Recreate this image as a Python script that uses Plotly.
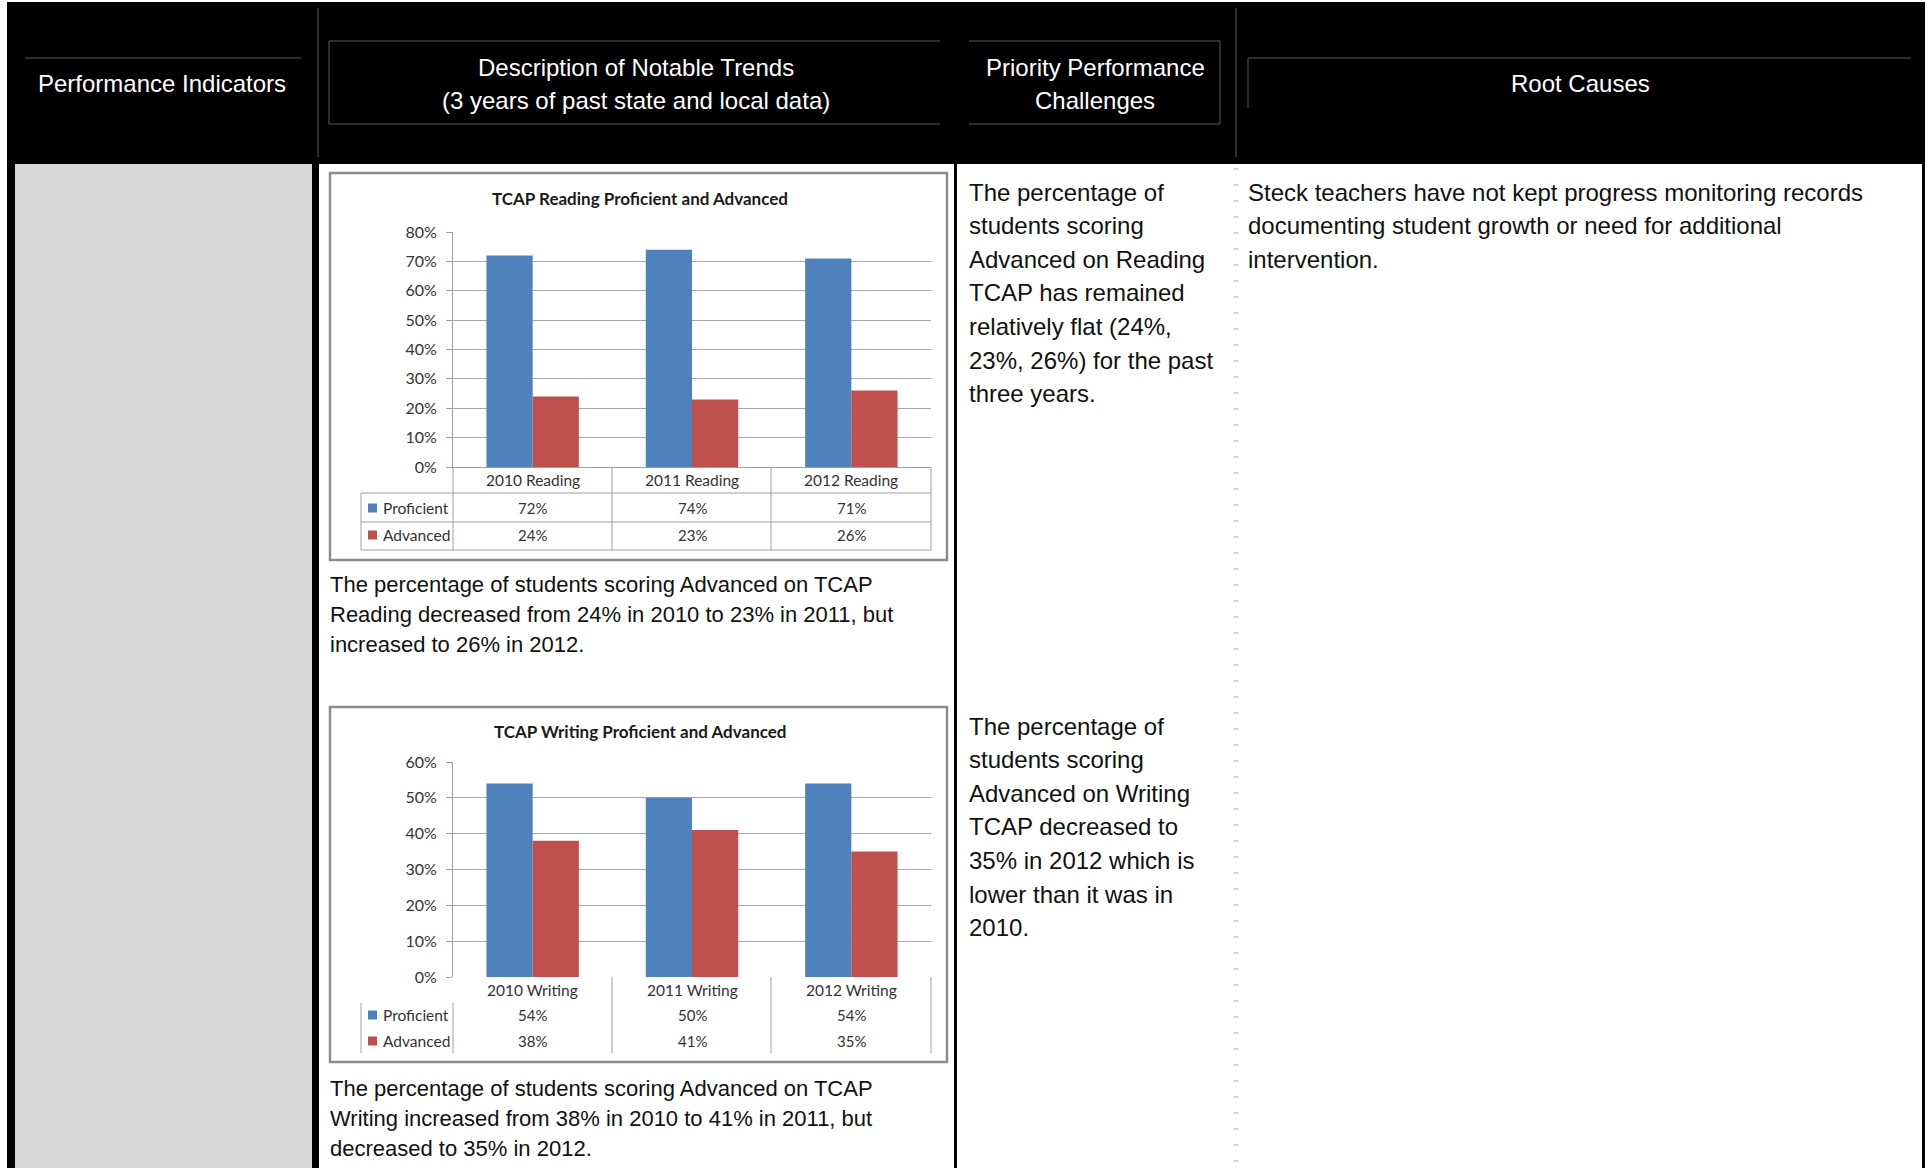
import plotly.graph_objects as go

W, H = 1927, 1168

# ---------------- data ----------------
reading_categories = ["2010 Reading", "2011 Reading", "2012 Reading"]
reading_proficient = [0.72, 0.74, 0.71]
reading_advanced = [0.24, 0.23, 0.26]

writing_categories = ["2010 Writing", "2011 Writing", "2012 Writing"]
writing_proficient = [0.54, 0.50, 0.54]
writing_advanced = [0.38, 0.41, 0.35]

series_names = ["Proficient", "Advanced"]
series_colors = ["#4F81BD", "#C0504D"]

reading_title = "TCAP Reading Proficient and Advanced"
writing_title = "TCAP Writing Proficient and Advanced"
reading_yticks = [0, 0.1, 0.2, 0.3, 0.4, 0.5, 0.6, 0.7, 0.8]
writing_yticks = [0, 0.1, 0.2, 0.3, 0.4, 0.5, 0.6]

header_col1 = "Performance Indicators"
header_col2 = ["Description of Notable Trends", "(3 years of past state and local data)"]
header_col3 = ["Priority Performance", "Challenges"]
header_col4 = "Root Causes"

reading_trend = ["The percentage of students scoring Advanced on TCAP",
                 "Reading decreased from 24% in 2010 to 23% in 2011, but",
                 "increased to 26% in 2012."]
writing_trend = ["The percentage of students scoring Advanced on TCAP",
                 "Writing increased from 38% in 2010 to 41% in 2011, but",
                 "decreased to 35% in 2012."]
reading_challenge = ["The percentage of", "students scoring", "Advanced on Reading",
                     "TCAP has remained", "relatively flat (24%,", "23%, 26%) for the past",
                     "three years."]
writing_challenge = ["The percentage of", "students scoring", "Advanced on Writing",
                     "TCAP decreased to", "35% in 2012 which is", "lower than it was in",
                     "2010."]
root_causes = ["Steck teachers have not kept progress monitoring records",
               "documenting student growth or need for additional",
               "intervention."]

NARROW = "Liberation Sans Narrow, Arial Narrow, Liberation Sans, Arial, sans-serif"
CHART_FONT = "Lato, Carlito, Calibri, sans-serif"
BIG = 24      # header / column text size
MID = 22      # text under the charts
CF = 15       # chart text size


def px(x):
    return x / W


def py(y):
    return 1 - y / H


shapes = []
annotations = []


def rect(x0, y0, x1, y1, fill=None, line=None, lw=0, layer="below"):
    shapes.append(dict(type="rect", xref="paper", yref="paper",
                       x0=px(x0), x1=px(x1), y0=py(y0), y1=py(y1),
                       fillcolor=fill if fill else "rgba(0,0,0,0)",
                       line=dict(color=line if line else "rgba(0,0,0,0)", width=lw),
                       layer=layer))


def seg(x0, y0, x1, y1, color, lw=1, dash="solid", layer="below"):
    shapes.append(dict(type="line", xref="paper", yref="paper",
                       x0=px(x0), x1=px(x1), y0=py(y0), y1=py(y1),
                       line=dict(color=color, width=lw, dash=dash), layer=layer))


def text(x, y, s, size, color="#111111", anchor="left", family=NARROW):
    annotations.append(dict(x=px(x), y=py(y), xref="paper", yref="paper", text=s,
                            showarrow=False, xanchor=anchor, yanchor="middle",
                            font=dict(family=family, size=size, color=color)))


# ---------------- table background ----------------
rect(7, 2, 1925, H, fill="#000000")            # black table frame / header
rect(15, 164, 312, H, fill="#D9D9D9")          # column 1 (gray)
rect(319, 164, 954, H, fill="#FFFFFF")         # column 2
rect(957, 164, 1922, H, fill="#FFFFFF")        # columns 3-4
seg(1236, 168, 1236, H, "#D4D4D4", 5, dash="2px,14px")

# header decorations
HL = "#5A5A5A"
seg(25, 58, 301, 58, HL)
seg(318, 8, 318, 157, HL)
seg(329, 41, 940, 41, HL)
seg(329, 124, 940, 124, HL)
seg(329, 41, 329, 124, HL)
seg(969, 41, 1220, 41, HL)
seg(969, 124, 1220, 124, HL)
seg(1220, 41, 1220, 124, HL)
seg(1236, 8, 1236, 157, HL)
seg(1248, 58, 1911, 58, HL)
seg(1248, 58, 1248, 108, HL)

# header text
text(162, 84, header_col1, BIG, "#FFFFFF", "center")
text(636, 67, header_col2[0], BIG, "#FFFFFF", "center")
text(636, 101, header_col2[1], BIG, "#FFFFFF", "center")
text(1095, 67, header_col3[0], BIG, "#FFFFFF", "center")
text(1095, 101, header_col3[1], BIG, "#FFFFFF", "center")
text(1580, 84, header_col4, BIG, "#FFFFFF", "center")

# body text
for i, s in enumerate(reading_trend):
    text(328, 584 + i * 30.2, s, MID)
for i, s in enumerate(writing_trend):
    text(328, 1088 + i * 30.2, s, MID)
for i, s in enumerate(reading_challenge):
    text(967, 192 + i * 33.6, s, BIG)
for i, s in enumerate(writing_challenge):
    text(967, 726 + i * 33.6, s, BIG)
for i, s in enumerate(root_causes):
    text(1246, 192 + i * 33.6, s, BIG)

# ---------------- charts ----------------
PLOT_X0, PLOT_X1 = 453, 931
CELL_X = [453, 612, 771, 931]
LEG_X = 361
TL = "#A0A0A0"

charts = [
    dict(cats=reading_categories, vals=[reading_proficient, reading_advanced],
         title=reading_title, ticks=reading_yticks, box=(330, 173, 947, 560),
         title_y=198, y_top=232, y_zero=467, cat_y=480, row_y=[508, 535],
         xa="x2", ya="y2", table_lines=True),
    dict(cats=writing_categories, vals=[writing_proficient, writing_advanced],
         title=writing_title, ticks=writing_yticks, box=(330, 707, 947, 1062),
         title_y=731, y_top=762, y_zero=977, cat_y=990, row_y=[1015, 1041],
         xa="x3", ya="y3", table_lines=False),
]

fig = go.Figure()
layout_axes = {}
for k, c in enumerate(charts):
    bx0, by0, bx1, by1 = c["box"]
    rect(bx0, by0, bx1, by1, fill="#FFFFFF", line="#8C8C8C", lw=2.5)
    text(640, c["title_y"], "<b>%s</b>" % c["title"], 17, "#1A1A1A", "center", CHART_FONT)

    for s in range(2):
        fig.add_trace(go.Bar(x=c["cats"], y=c["vals"][s], name=series_names[s],
                             marker=dict(color=series_colors[s], line=dict(width=0)),
                             xaxis=c["xa"], yaxis=c["ya"], showlegend=False))

    xa_name = "xaxis%s" % c["xa"][1:]
    ya_name = "yaxis%s" % c["ya"][1:]
    layout_axes[xa_name] = dict(domain=[px(PLOT_X0), px(PLOT_X1)], anchor=c["ya"],
                                showticklabels=False, showgrid=False, zeroline=False,
                                showline=c["table_lines"], linecolor=TL, linewidth=1,
                                fixedrange=True, automargin=False)
    layout_axes[ya_name] = dict(domain=[py(c["y_zero"]), py(c["y_top"])], anchor=c["xa"],
                                range=[0, c["ticks"][-1]], tickvals=c["ticks"],
                                tickformat=".0%", showgrid=True, gridcolor="#A8A8A8",
                                gridwidth=1, zeroline=False, showline=True,
                                linecolor=TL, linewidth=1, ticks="outside", ticklen=6,
                                tickcolor=TL, ticklabelstandoff=6, automargin=False,
                                tickfont=dict(family=CHART_FONT, size=CF + 1, color="#333333"),
                                fixedrange=True)

    # data table: category labels and values
    for j, cat in enumerate(c["cats"]):
        annotations.append(dict(x=cat, xref=c["xa"], y=py(c["cat_y"]), yref="paper",
                                text=cat, showarrow=False, xanchor="center", yanchor="middle",
                                font=dict(family=CHART_FONT, size=CF + 0.5, color="#333333")))
        for s in range(2):
            annotations.append(dict(x=cat, xref=c["xa"], y=py(c["row_y"][s]), yref="paper",
                                    text="%d%%" % round(c["vals"][s][j] * 100),
                                    showarrow=False, xanchor="center", yanchor="middle",
                                    font=dict(family=CHART_FONT, size=CF, color="#333333")))
    for s in range(2):
        ry = c["row_y"][s]
        rect(368, ry - 4.5, 377, ry + 4.5, fill=series_colors[s], layer="above")
        text(381, ry, series_names[s], CF + 0.5, "#333333", "left", CHART_FONT)

    yz = c["y_zero"]
    if c["table_lines"]:
        seg(LEG_X, 493, PLOT_X1, 493, TL)
        seg(LEG_X, 522, PLOT_X1, 522, TL)
        seg(LEG_X, 550, PLOT_X1, 550, TL)
        for cx in CELL_X:
            seg(cx, yz, cx, 550, TL)
        seg(LEG_X, 493, LEG_X, 550, TL)
    else:
        for cx in CELL_X[1:]:
            seg(cx, yz, cx, 1053, TL)
        seg(PLOT_X0, 1003, PLOT_X0, 1053, TL)
        seg(LEG_X, 1003, LEG_X, 1053, TL)

fig.update_layout(
    template="none",
    width=W, height=H, autosize=False,
    margin=dict(l=0, r=0, t=0, b=0, pad=0, autoexpand=False),
    paper_bgcolor="#FFFFFF", plot_bgcolor="rgba(0,0,0,0)",
    barmode="group", bargap=0.42, bargroupgap=0,
    showlegend=False, shapes=shapes, annotations=annotations,
    xaxis=dict(visible=False, automargin=False),
    yaxis=dict(visible=False, automargin=False),
    **layout_axes,
)

fig.write_html("out.html", config={"displayModeBar": False})
